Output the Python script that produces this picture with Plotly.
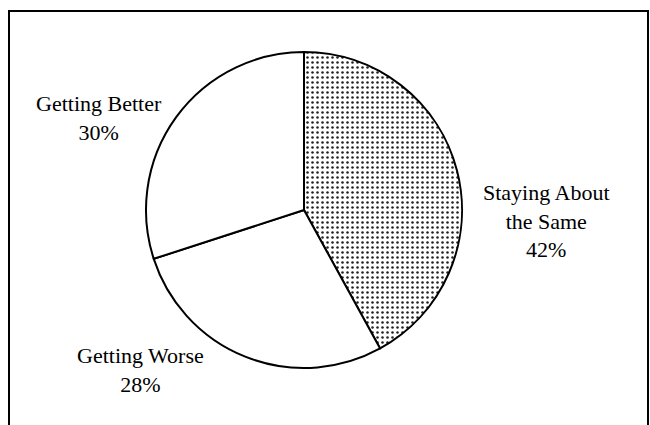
import plotly.graph_objects as go

categories = ["Staying About the Same", "Getting Worse", "Getting Better"]
values = [42, 28, 30]
label_text = ["Staying About<br>the Same<br>42%", "Getting Worse<br>28%", "Getting Better<br>30%"]

W, H = 650, 425
cx, cy, r = 304, 210, 158

fig = go.Figure(go.Pie(
    labels=categories,
    values=values,
    sort=False,
    direction="clockwise",
    rotation=0,
    textinfo="none",
    hoverinfo="label+percent",
    marker=dict(
        colors=["white", "white", "white"],
        line=dict(color="black", width=2),
        pattern=dict(shape=[".", "", ""], fgcolor="#222222", bgcolor="white",
                     size=5, solidity=0.2),
    ),
    domain=dict(x=[(cx - r) / W, (cx + r) / W],
                y=[(H - cy - r) / H, (H - cy + r) / H]),
    showlegend=False,
))

label_pos = [(546, 221), (140, 370), (99, 118)]
font = dict(family="Liberation Serif, Times New Roman, serif", size=22, color="black")
for txt, (x, y) in zip(label_text, label_pos):
    fig.add_annotation(x=x / W, y=1 - y / H, xref="paper", yref="paper",
                       text=txt, showarrow=False, font=font, align="center",
                       xanchor="center", yanchor="middle")

fig.add_shape(type="rect", xref="paper", yref="paper",
              x0=9 / W, x1=648 / W,
              y0=1 - 440 / H, y1=1 - 11 / H,
              line=dict(color="black", width=2))

fig.update_layout(width=W, height=H, margin=dict(l=0, r=0, t=0, b=0),
                  paper_bgcolor="white", plot_bgcolor="white")
fig.write_html(
    "out.html",
    config={"displayModeBar": False},
    post_script="document.body.style.margin='0';"
                "document.documentElement.style.overflow='hidden';"
                "document.body.style.overflow='hidden';",
)
